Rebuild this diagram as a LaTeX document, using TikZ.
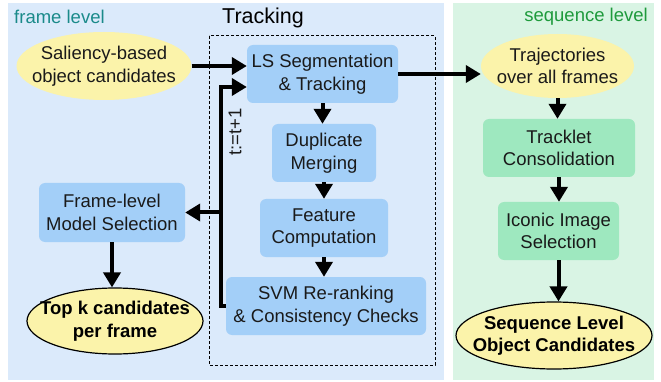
\documentclass[tikz,border=0pt]{standalone}
\usepackage{fontspec}
\setmainfont{Liberation Sans}
\usetikzlibrary{shapes.geometric,arrows.meta}
\definecolor{panelblue}{HTML}{DBEAFB}
\definecolor{panelgreen}{HTML}{D9F4E4}
\definecolor{boxblue}{HTML}{A3CFF8}
\definecolor{boxgreen}{HTML}{9EE8BF}
\definecolor{ellyellow}{HTML}{FBF3AA}
\definecolor{tealtxt}{HTML}{1A8A8A}
\definecolor{greentxt}{HTML}{1E9A3C}
\definecolor{txt}{HTML}{1A1A1A}
\begin{document}
\begin{tikzpicture}[x=1pt,y=-1pt,
  font=\fontsize{18.5}{22.5}\selectfont,
  bbox/.style={rectangle, rounded corners=6pt, fill=boxblue, align=center, inner sep=0pt, text=txt},
  gbox/.style={bbox, fill=boxgreen},
  yell/.style={ellipse, fill=ellyellow, inner sep=0pt},
  yellb/.style={yell, draw=black, line width=1.2pt},
  etext/.style={align=center, inner sep=0pt, text=txt},
  etextb/.style={align=center, inner sep=0pt, text=black, font=\fontsize{18.5}{22.5}\selectfont\bfseries},
  arr/.style={line width=4pt, -{Triangle[length=15pt,width=17pt]}}]
\useasboundingbox (0,0) rectangle (661,382);
\fill[panelblue] (8,3) rectangle (444,380);
\fill[panelgreen] (453,3) rectangle (654,380);
\draw[line width=1pt, dash pattern=on 3pt off 2pt] (209,36) rectangle (435,365);

\node[text=tealtxt, anchor=west, inner sep=0pt] (fl) at (14,17) {frame level};
\node[text=greentxt, anchor=east, inner sep=0pt] (sl) at (648,17) {sequence level};
\node[font=\fontsize{21.5}{25}\selectfont, inner sep=0pt] (tr) at (263,18) {Tracking};

\node[yell, minimum width=175pt, minimum height=68pt] (sal) at (104,66) {};
\node[etext] (salt) at (sal) {Saliency-based\\object candidates};
\node[bbox, minimum width=151pt, minimum height=58pt] (ls) at (322.5,74) {LS Segmentation\\\& Tracking};
\node[bbox, minimum width=104pt, minimum height=58pt] (dup) at (324,153) {Duplicate\\Merging};
\node[bbox, minimum width=128pt, minimum height=58pt] (feat) at (324,228) {Feature\\Computation};
\node[bbox, minimum width=200pt, minimum height=58pt] (svm) at (326,306) {SVM Re-ranking\\\& Consistency Checks};
\node[bbox, minimum width=146pt, minimum height=59pt] (fms) at (112,212.5) {Frame-level\\Model Selection};
\node[yellb, minimum width=176pt, minimum height=66pt] (topk) at (115,321) {};
\node[etextb] (topkt) at (topk) {Top k candidates\\per frame};
\node[yell, minimum width=153pt, minimum height=64pt] (traj) at (557.5,66) {};
\node[etext] (trajt) at (traj) {Trajectories\\over all frames};
\node[gbox, minimum width=152pt, minimum height=58pt] (track) at (559,148) {Tracklet\\Consolidation};
\node[gbox, minimum width=121pt, minimum height=58pt] (icon) at (558.5,231) {Iconic Image\\Selection};
\node[yellb, minimum width=196pt, minimum height=67pt] (seq) at (554,335.5) {};
\node[etextb] (seqt) at (seq) {Sequence Level\\Object Candidates};

\node[rotate=90, inner sep=0pt, text=txt] (inc) at (235,132) {t:=t+1};

\coordinate (lp) at (221,0);
\coordinate (lsin) at ([yshift=-13pt]ls.west);

\draw[arr] (sal.east) -- (sal.east -| ls.west);
\draw[arr] (svm.west) -- (svm.west -| lp) -- (lp |- lsin) -- (lsin);
\draw[arr] (lp |- fms.east) -- (fms.east);
\draw[arr] (ls.east) -- (traj.west |- ls.east);
\draw[arr] (ls.south) -- (ls.south |- dup.north);
\draw[arr] (dup.south) -- (dup.south |- feat.north);
\draw[arr] (feat.south) -- (feat.south |- svm.north);
\draw[arr] (fms.south) -- (fms.south |- topk.north);
\draw[arr] (traj.south) -- (traj.south |- track.north);
\draw[arr] (track.south) -- (track.south |- icon.north);
\draw[arr] (icon.south) -- (icon.south |- seq.north);
\end{tikzpicture}
\end{document}
